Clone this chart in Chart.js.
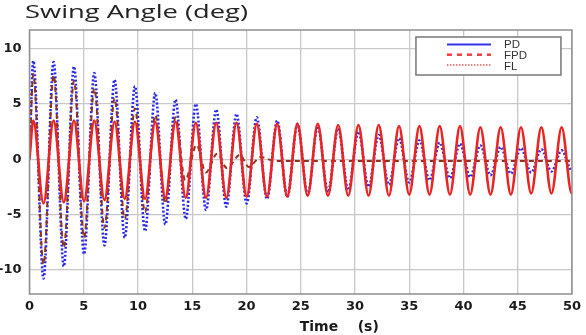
<!DOCTYPE html>
<html>
<head>
<meta charset="utf-8">
<title>Swing Angle</title>
<script src="https://cdn.jsdelivr.net/npm/chart.js@4.4.1/dist/chart.umd.min.js"></script>
<style>
    html, body { margin: 0; padding: 0; background: #fff; }
    #wrap { width: 586px; height: 335px; position: relative; }
</style>
</head>
<body>
<div id="wrap"><canvas id="swingChart"></canvas></div>
<script>
// --- Data (extrema of each trace, seconds / degrees) ---
const time = [0, 0.35, 1.29, 2.22, 3.16, 4.10, 5.03, 5.97, 6.91, 7.84, 8.78,
    9.72, 10.65, 11.59, 12.52, 13.46, 14.40, 15.33, 16.27, 17.21, 18.14,
    19.08, 20.02, 20.95, 21.89, 22.83, 23.76, 24.70, 25.64, 26.57, 27.51,
    28.45, 29.38, 30.32, 31.25, 32.19, 33.13, 34.06, 35.00, 35.94, 36.87,
    37.81, 38.75, 39.68, 40.62, 41.56, 42.49, 43.43, 44.37, 45.30, 46.24,
    47.18, 48.11, 49.05, 49.98, 50];

const pdValues = [0, 8.9, -10.8, 8.8, -9.7, 8.4, -8.6, 7.8, -7.8, 7.2, -7.1,
    6.6, -6.5, 6.0, -5.9, 5.4, -5.4, 5.0, -4.6, 4.5, -4.3,
    4.1, -4.0, 3.8, -3.6, 3.5, -3.4, 3.2, -3.2, 3.0, -3.0,
    2.8, -2.8, 2.5, -2.5, 2.2, -2.3, 1.9, -2.1, 1.7, -1.9,
    1.5, -1.7, 1.4, -1.6, 1.25, -1.45, 1.1, -1.3, 1.0, -1.2,
    0.9, -1.1, 0.8, -1.0, -1.0];

const flValues = [0, 3.5, -4.0, 3.5, -3.9, 3.5, -3.8, 3.5, -3.7, 3.4, -3.6,
    3.4, -3.6, 3.4, -3.5, 3.4, -3.5, 3.3, -3.5, 3.3, -3.5,
    3.3, -3.4, 3.2, -3.4, 3.2, -3.4, 3.2, -3.3, 3.2, -3.3,
    3.1, -3.3, 3.1, -3.3, 3.1, -3.3, 3.0, -3.2, 3.0, -3.2,
    3.0, -3.2, 3.0, -3.2, 2.9, -3.2, 2.9, -3.2, 2.9, -3.1,
    2.9, -3.1, 2.9, -3.1, -3.1];

const fpdTime = [0, 0.35, 1.29, 2.22, 3.16, 4.10, 5.03, 5.97, 6.91, 7.84, 8.78,
    9.72, 10.65, 11.59, 12.52, 13.46, 14.35, 15.40, 16.25, 17.30, 18.20,
    19.40, 20.20, 21.30, 22.60, 50];
const fpdValues = [0, 7.7, -9.5, 7.6, -8.0, 7.1, -7.1, 6.4, -6.2, 5.5, -5.4,
    4.6, -4.8, 4.0, -4.0, 3.8, -1.9, 1.3, -1.2, 0.5, -0.8,
    0.4, -0.7, 0.2, -0.15, -0.15];

const xTicks = { min: 0, max: 50, step: 5 };
const yTicks = { min: -12.2, max: 11.7, step: 5 };

const toPoints = (xs, ys) => xs.map((x, i) => ({ x: x, y: ys[i] }));

// --- Decorations: title, axis label, frame, legend box ---
const legendStyle = [
    { label: 'PD', color: 'rgb(50, 50, 230)', dash: [], width: 2 },
    { label: 'FPD', color: 'rgb(240, 60, 60)', dash: [5, 5], width: 2.5 },
    { label: 'FL', color: 'rgb(215, 95, 85)', dash: [1.5, 1.5], width: 1.5 }
];

const decorPlugin = {
    id: 'decor',
    afterDraw(chart) {
        const { ctx, chartArea: a } = chart;
        ctx.save();

        // frame around the plot
        ctx.strokeStyle = '#8e8e8e';
        ctx.lineWidth = 1.5;
        ctx.setLineDash([]);
        ctx.strokeRect(a.left, a.top, a.right - a.left, a.bottom - a.top);

        // legend
        const bx = a.right - 156, by = a.top + 7, bw = 145, bh = 38;
        ctx.fillStyle = '#fff';
        ctx.fillRect(bx, by, bw, bh);
        ctx.strokeStyle = '#777';
        ctx.lineWidth = 1.5;
        ctx.strokeRect(bx, by, bw, bh);
        ctx.font = '11.5px "Liberation Sans", Arial, sans-serif';
        ctx.textBaseline = 'middle';
        ctx.textAlign = 'left';
        legendStyle.forEach((s, i) => {
            const ly = by + 7.5 + 10.2 * i;
            ctx.strokeStyle = s.color;
            ctx.lineWidth = s.width;
            ctx.setLineDash(s.dash);
            ctx.beginPath();
            ctx.moveTo(bx + 31, ly);
            ctx.lineTo(bx + 75, ly);
            ctx.stroke();
            ctx.fillStyle = '#333';
            ctx.fillText(s.label, bx + 88, by + 7.5 + 11.3 * i);
        });
        ctx.setLineDash([]);

        // chart title, stretched wide like the source figure
        const title = 'Swing Angle (deg)';
        ctx.font = '19px "Open Sans", sans-serif';
        ctx.fillStyle = '#222';
        ctx.textBaseline = 'alphabetic';
        const w = ctx.measureText(title).width;
        ctx.translate(25, 17.5);
        ctx.scale(223 / w, 1);
        ctx.fillText(title, 0, 0);
        ctx.setTransform(1, 0, 0, 1, 0, 0);

        // x axis label
        ctx.font = 'bold 14px "DejaVu Sans", sans-serif';
        ctx.fillStyle = '#1a1a1a';
        ctx.fillText('Time    (s)', (a.left + a.right) / 2 - 1, 330.5);

        ctx.restore();
    }
};

const tickFont = { family: '"DejaVu Sans", sans-serif', size: 13, weight: 'bold' };
const gridStyle = { color: 'rgb(200, 200, 200)', lineWidth: 1.3, drawTicks: false };

new Chart(document.getElementById('swingChart'), {
    type: 'line',
    data: {
        datasets: [
            {
                label: 'FL',
                data: toPoints(time, flValues),
                borderColor: 'rgb(235, 35, 35)',
                borderWidth: 2.6,
                order: 0
            },
            {
                label: 'FPD',
                data: toPoints(fpdTime, fpdValues),
                borderColor: 'rgb(140, 50, 30)',
                borderWidth: 2,
                borderDash: [5, 4],
                order: 1
            },
            {
                label: 'PD',
                data: toPoints(time, pdValues),
                borderColor: 'rgb(40, 40, 235)',
                borderWidth: 2.6,
                borderDash: [2, 2],
                order: 2
            }
        ]
    },
    options: {
        responsive: true,
        maintainAspectRatio: false,
        animation: false,
        parsing: false,
        elements: {
            point: { radius: 0 },
            line: { cubicInterpolationMode: 'monotone', fill: false }
        },
        layout: { padding: { top: 30, right: 13, left: 0, bottom: 0 } },
        plugins: {
            legend: { display: false },
            title: { display: false },
            tooltip: { enabled: false }
        },
        scales: {
            x: {
                type: 'linear',
                min: xTicks.min,
                max: xTicks.max,
                grid: gridStyle,
                border: { display: false },
                ticks: {
                    stepSize: xTicks.step,
                    includeBounds: false,
                    font: tickFont,
                    color: '#1a1a1a',
                    padding: 5,
                    maxRotation: 0,
                    autoSkip: false
                },
                afterFit: scale => { scale.height = 41; }
            },
            y: {
                min: yTicks.min,
                max: yTicks.max,
                grid: gridStyle,
                border: { display: false },
                ticks: {
                    stepSize: yTicks.step,
                    includeBounds: false,
                    font: tickFont,
                    color: '#1a1a1a',
                    padding: 8
                },
                afterFit: scale => { scale.width = 29.5; }
            }
        }
    },
    plugins: [decorPlugin]
});
</script>
</body>
</html>
